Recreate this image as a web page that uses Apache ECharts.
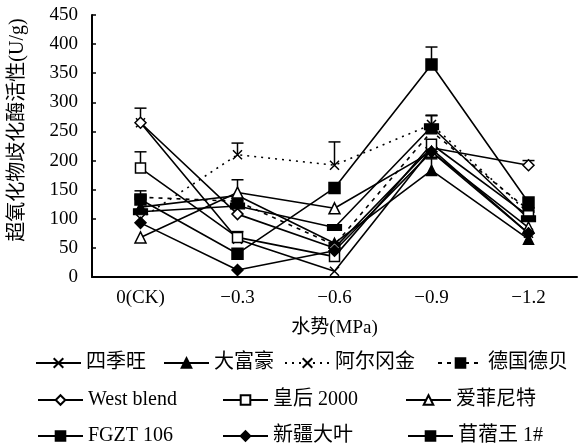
<!DOCTYPE html>
<html><head><meta charset="utf-8">
<script src="https://cdn.jsdelivr.net/npm/echarts@6/dist/echarts.min.js"></script>
<style>html,body{margin:0;padding:0;background:#fff}#c{width:579px;height:443px}</style>
</head><body><div id="c"></div>
<script>
const categories = ['0(CK)', '−0.3', '−0.6', '−0.9', '−1.2'];
const yTicks = [0, 50, 100, 150, 200, 250, 300, 350, 400, 450];
const names = ['四季旺', '大富豪', '阿尔冈金', '德国德贝', 'West blend', '皇后 2000', '爱菲尼特', 'FGZT 106', '新疆大叶', '苜蓿王 1#'];
const siJiWang   = [265, 65, 10, 220, 75];
const daFuHao    = [120, 140, 58, 183, 65];
const aErGangJin = [100, 210, 192, 262, 110];
const deGuoDeBei = [137, 130, 55, 250, 115];
const westBlend  = [265, 108, 50, 222, 192];
const huangHou   = [187, 68, 35, 228, 105];
const aiFeiNiTe  = [68, 145, 118, 215, 85];
const fgzt106    = [133, 40, 153, 365, 128];
const xinJiang   = [93, 12, 45, 215, 75];
const muXuWang   = [112, 122, 85, 258, 100];
const errSiJiWang   = [0, 0, 0, 0, 0];
const errDaFuHao    = [0, 0, 0, 20, 0];
const errAErGangJin = [0, 20, 40, 15, 0];
const errDeGuoDeBei = [0, 0, 0, 0, 0];
const errWestBlend  = [25, 0, 0, 0, 8];
const errHuangHou   = [28, 10, 0, 0, 0];
const errAiFeiNiTe  = [0, 22, 0, 0, 0];
const errFgzt106    = [15, 0, 0, 30, 0];
const errXinJiang   = [0, 0, 0, 0, 0];
const errMuXuWang   = [0, 0, 0, 20, 0];

const values = [siJiWang, daFuHao, aErGangJin, deGuoDeBei, westBlend, huangHou, aiFeiNiTe, fgzt106, xinJiang, muXuWang];
const errors = [errSiJiWang, errDaFuHao, errAErGangJin, errDeGuoDeBei, errWestBlend, errHuangHou, errAiFeiNiTe, errFgzt106, errXinJiang, errMuXuWang];

const cross = 'path://M0,0L10,10M10,0L0,10';
const styles = [
  {symbol: cross, size: 9, fill: '#000', type: 'solid'},
  {symbol: 'triangle', size: 10, fill: '#000', type: 'solid'},
  {symbol: cross, size: 9, fill: '#000', type: [2, 5]},
  {symbol: 'rect', size: [10, 5], fill: '#000', type: [4, 5]},
  {symbol: 'diamond', size: 11, fill: '#fff', type: 'solid'},
  {symbol: 'rect', size: 10, fill: '#fff', type: 'solid'},
  {symbol: 'triangle', size: 11, fill: '#fff', type: 'solid'},
  {symbol: 'rect', size: 11, fill: '#000', type: 'solid'},
  {symbol: 'diamond', size: 11, fill: '#000', type: 'solid'},
  {symbol: 'rect', size: [13, 6], fill: '#000', type: 'solid'}
];

const font = 'Liberation Serif, Times New Roman, Noto Sans CJK SC, serif';
const series = [];
names.forEach((n, i) => {
  const errData = [];
  errors[i].forEach((e, j) => { if (e > 0) errData.push([j, values[i][j], values[i][j] + e]); });
  if (errData.length) {
    series.push({
      type: 'custom', name: n + ' err', data: errData, z: 1, silent: true,
      renderItem: function (params, api) {
        const p = api.coord([api.value(0), api.value(1)]);
        const t = api.coord([api.value(0), api.value(2)]);
        return {type: 'group', children: [
          {type: 'line', shape: {x1: p[0], y1: p[1], x2: p[0], y2: t[1]}, style: {stroke: '#000', lineWidth: 1.5}},
          {type: 'line', shape: {x1: p[0] - 6, y1: t[1], x2: p[0] + 6, y2: t[1]}, style: {stroke: '#000', lineWidth: 1.5}}
        ]};
      }
    });
  }
  const s = styles[i];
  series.push({
    type: 'line', name: n, data: values[i], z: 3,
    symbol: s.symbol, symbolSize: s.size, showAllSymbol: true,
    lineStyle: {color: '#000', width: 1.6, type: s.type},
    itemStyle: {color: s.fill, borderColor: '#000', borderWidth: 1.5},
    emphasis: {disabled: true}
  });
});

const legendPos = [
  [35, 353], [163, 353], [284, 353], [437, 353],
  [37, 390], [222, 390], [405, 390],
  [37, 426], [222, 426], [407, 426]
];
const legends = names.map((n, i) => ({
  data: [n], left: legendPos[i][0], top: legendPos[i][1],
  itemWidth: 45, itemHeight: 12, itemGap: 4, selectedMode: false, padding: 0,
  textStyle: {fontFamily: font, fontSize: 20, color: '#000'}
}));

const chart = echarts.init(document.getElementById('c'), null, {renderer: 'canvas'});
chart.setOption({
  backgroundColor: '#fff',
  animation: false,
  textStyle: {fontFamily: font},
  grid: {left: 87, right: 2, top: 15, bottom: 166, containLabel: false},
  legend: legends,
  xAxis: {
    type: 'category', data: categories, boundaryGap: true,
    name: '水势(MPa)', nameLocation: 'middle', nameGap: 42,
    nameTextStyle: {fontFamily: font, fontSize: 19, color: '#000'},
    axisLine: {lineStyle: {color: '#000', width: 2}},
    axisTick: {inside: true, length: 5, lineStyle: {color: '#000', width: 1.5}},
    axisLabel: {fontFamily: font, fontSize: 19, color: '#000', margin: 12}
  },
  yAxis: {
    type: 'value', min: 0, max: 450, interval: 50,
    name: '超氧化物歧化酶活性(U/g)', nameLocation: 'middle', nameGap: 64,
    nameTextStyle: {fontFamily: font, fontSize: 20, color: '#000', padding: [0, 0, 0, 32]},
    axisLine: {show: true, lineStyle: {color: '#000', width: 2}},
    axisTick: {show: true, inside: true, length: 4, lineStyle: {color: '#000', width: 1.5}},
    splitLine: {show: false},
    axisLabel: {fontFamily: font, fontSize: 19, color: '#000', margin: 14,
      formatter: v => yTicks.includes(v) ? String(v) : ''}
  },
  series: series
});
</script></body></html>
